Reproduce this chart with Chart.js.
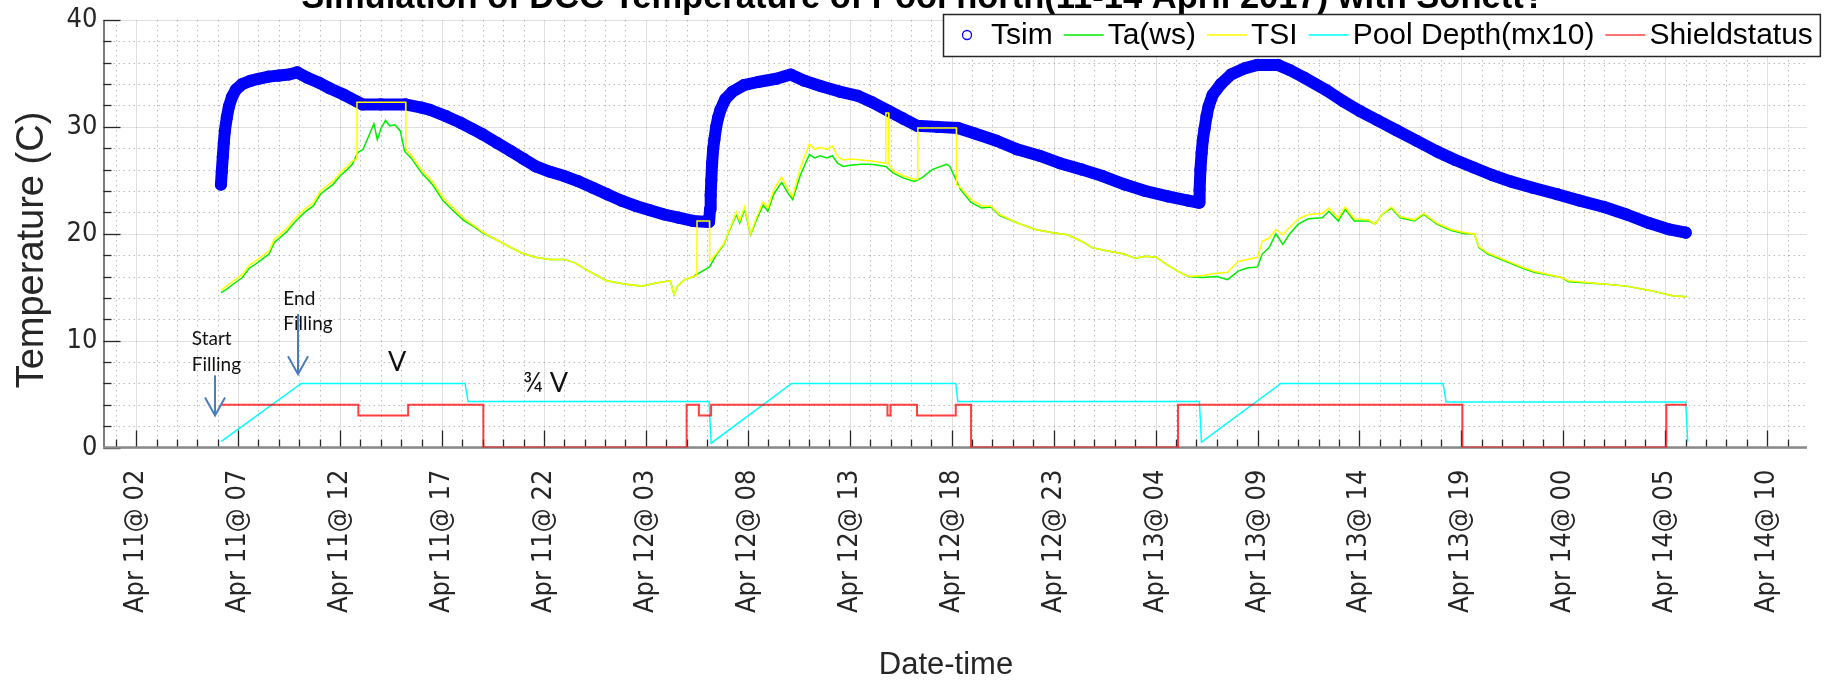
<!DOCTYPE html>
<html>
<head>
<meta charset="utf-8">
<script src="https://cdn.jsdelivr.net/npm/chart.js@4.4.0/dist/chart.umd.min.js"></script>
<style>
html,body{margin:0;padding:0;background:#fff;}
canvas{display:block;}
</style>
</head>
<body>
<canvas id="c" width="1827" height="684"></canvas>
<script>
// ---------------- DATA (hours since Apr 11 00:00) ----------------
const titleText = 'Simulation of DCC Temperature of Pool north(11-14 April 2017) with Sonett?';
const xTitle = 'Date-time';
const yTitle = 'Temperature (C)';
const tickHours = [2, 7, 12, 17, 22, 27, 32, 37, 42, 47, 52, 57, 62, 67, 72, 77, 82];
const tickLabels = ['Apr 11@ 02', 'Apr 11@ 07', 'Apr 11@ 12', 'Apr 11@ 17', 'Apr 11@ 22',
  'Apr 12@ 03', 'Apr 12@ 08', 'Apr 12@ 13', 'Apr 12@ 18', 'Apr 12@ 23',
  'Apr 13@ 04', 'Apr 13@ 09', 'Apr 13@ 14', 'Apr 13@ 19',
  'Apr 14@ 00', 'Apr 14@ 05', 'Apr 14@ 10'];
const yTickValues = [0, 10, 20, 30, 40];

const tsimHours = [6.16, 6.20, 6.25, 6.30, 6.35, 6.45, 6.55, 6.70, 6.90, 7.20, 7.60, 8.00, 8.50, 9.00, 9.50, 9.90,
  10.40, 11.00, 11.50, 12.20, 12.80, 13.10, 14.00, 15.20, 16.00, 16.40, 17.20, 17.90, 18.50, 19.00, 19.70,
  20.40, 21.00, 21.60, 22.30, 23.00, 23.70, 24.40, 25.10, 25.80, 26.50, 27.20, 27.90, 28.60, 29.30, 30.10,
  30.15, 30.18, 30.21, 30.25, 30.30, 30.36, 30.45, 30.55, 30.66, 30.90, 31.25, 31.80, 32.50, 33.40, 34.10,
  34.80, 35.60, 36.50, 37.40, 38.10, 38.90, 39.60, 40.30, 41.30, 42.30, 43.10, 44.20, 45.20, 46.30, 47.30,
  48.40, 49.40, 50.50, 51.50, 52.60, 53.60, 54.13,
  54.16, 54.20, 54.26, 54.32, 54.40, 54.50, 54.60, 54.80, 55.20, 55.70, 56.40, 57.00, 58.00, 58.60, 59.30,
  60.40, 61.20, 62.00, 62.90, 63.80, 64.80, 65.80, 66.70, 67.60, 68.50, 69.40, 70.50, 71.70, 72.80, 74.00,
  75.10, 76.20, 77.20, 78.00];
const tsimValues = [24.6, 25.8, 27.2, 28.5, 29.6, 30.9, 31.9, 32.8, 33.5, 34.0, 34.3, 34.5, 34.7, 34.8, 34.9, 35.1,
  34.6, 34.1, 33.6, 33.0, 32.4, 32.1, 32.1, 32.1, 31.8, 31.6, 31.0, 30.4, 29.8, 29.3, 28.5,
  27.7, 27.0, 26.3, 25.8, 25.4, 24.9, 24.3, 23.7, 23.1, 22.6, 22.2, 21.8, 21.5, 21.2, 21.1,
  22.3, 23.6, 25.0, 26.6, 27.9, 28.8, 30.0, 30.9, 31.6, 32.6, 33.3, 33.9, 34.2, 34.5, 34.9,
  34.3, 33.8, 33.3, 32.9, 32.3, 31.5, 30.8, 30.1, 30.0, 29.9, 29.4, 28.7, 27.9, 27.3, 26.6,
  26.0, 25.4, 24.6, 24.0, 23.5, 23.1, 22.9,
  24.1, 26.0, 27.6, 28.8, 29.8, 31.0, 31.9, 33.0, 34.0, 34.9, 35.5, 35.8, 35.8, 35.3, 34.6,
  33.4, 32.4, 31.5, 30.6, 29.7, 28.7, 27.7, 26.9, 26.2, 25.5, 24.9, 24.3, 23.7, 23.1, 22.5,
  21.8, 21.0, 20.4, 20.1];

const taHours = [6.16, 6.43, 6.77, 7.21, 7.56, 7.82, 8.17, 8.52, 8.78, 9.04, 9.39, 9.74, 10.00, 10.26, 10.69,
  11.04, 11.30, 11.65, 12.00, 12.35, 12.60, 12.87, 13.13, 13.40, 13.66, 13.83, 14.00, 14.23, 14.44, 14.70,
  14.96, 15.17, 15.48, 16.00, 16.53, 17.05, 17.57, 18.10, 18.62, 18.97, 19.50, 20.19, 20.90, 21.58, 22.28,
  22.98, 23.50, 24.20, 25.07, 25.94, 26.80, 27.50, 28.20, 28.38, 28.55, 28.90, 29.33, 29.77, 30.12, 30.48,
  30.83, 31.10, 31.44, 31.60, 31.84, 32.14, 32.40, 32.75, 32.98, 33.27, 33.66, 33.97, 34.20, 34.58, 35.02,
  35.28, 35.54, 35.89, 36.15, 36.40, 36.68, 37.03, 37.55, 38.07, 38.77, 39.12, 39.64, 40.17, 40.52, 41.04,
  41.74, 41.91, 42.44, 42.96, 43.48, 43.92, 44.36, 45.23, 46.10, 46.97, 47.67, 48.37, 48.89, 49.59, 50.46,
  50.99, 51.51, 52.03, 52.56, 53.08, 53.60, 54.30, 55.00, 55.53, 56.05, 56.49, 57.00, 57.23, 57.57, 57.90,
  58.24, 58.58, 59.00, 59.48, 60.17, 60.50, 60.96, 61.30, 61.75, 62.43, 62.77, 63.10, 63.56, 64.00, 64.70,
  65.14, 65.80, 66.50, 67.18, 67.63, 67.86, 68.30, 69.44, 70.10, 70.57, 71.90, 72.27, 73.97, 75.10, 76.23,
  77.36, 78.04];
const taValues = [14.5, 14.8, 15.3, 15.9, 16.8, 17.1, 17.6, 18.1, 19.2, 19.6, 20.2, 21.0, 21.5, 22.0, 22.6,
  23.7, 24.1, 24.6, 25.4, 26.0, 26.5, 27.6, 27.9, 29.1, 30.3, 28.8, 29.8, 30.6, 30.1, 30.2,
  29.6, 27.7, 27.1, 25.7, 24.6, 23.1, 22.1, 21.2, 20.6, 20.1, 19.6, 18.9, 18.2, 17.8, 17.6,
  17.6, 17.3, 16.5, 15.6, 15.3, 15.1, 15.4, 15.6, 14.3, 15.1, 15.7, 16.0, 16.5, 16.9, 18.1,
  19.0, 20.3, 21.8, 21.0, 22.3, 19.9, 21.2, 22.7, 22.1, 23.7, 24.8, 23.8, 23.2, 25.5, 27.4,
  27.1, 27.3, 27.1, 27.3, 26.6, 26.3, 26.4, 26.5, 26.5, 26.3, 25.7, 25.2, 24.9, 25.2, 26.0,
  26.5, 26.3, 24.1, 22.9, 22.4, 22.5, 21.7, 21.0, 20.4, 20.1, 19.9, 19.3, 18.7, 18.4, 18.1,
  17.7, 17.9, 17.8, 17.1, 16.5, 16.0, 15.9, 16.0, 15.7, 16.5, 16.8, 16.9, 18.1, 18.7, 20.0,
  19.0, 20.0, 20.9, 21.4, 21.5, 22.1, 21.2, 22.3, 21.2, 21.2, 20.9, 21.8, 22.4, 21.5, 21.2,
  21.8, 20.9, 20.3, 20.0, 20.0, 18.7, 18.1, 17.2, 16.7, 16.4, 15.9, 15.5, 15.3, 15.1, 14.7,
  14.2, 14.1];

const tsiHours = [6.16, 6.43, 6.77, 7.21, 7.56, 7.82, 8.17, 8.52, 8.78, 9.04, 9.39, 9.74, 10.00, 10.26, 10.69,
  11.04, 11.30, 11.65, 12.00, 12.35, 12.60, 12.82, 12.83, 15.22, 15.23, 15.48, 16.00, 16.53, 17.05, 17.57,
  18.10, 18.62, 18.97, 19.50, 20.19, 20.90, 21.58, 22.28, 22.98, 23.50, 24.20, 25.07, 25.94, 26.80, 27.50,
  28.20, 28.38, 28.55, 28.90, 29.33, 29.50, 29.51, 30.12, 30.13, 30.48, 30.83, 31.10, 31.44, 31.60, 31.84,
  32.14, 32.40, 32.75, 32.98, 33.27, 33.66, 33.97, 34.20, 34.58, 35.02, 35.28, 35.54, 35.89, 36.15, 36.40,
  36.68, 37.03, 37.55, 38.07, 38.76, 38.77, 38.91, 38.92, 39.12, 39.64, 40.17, 40.33, 40.34, 42.23, 42.24,
  42.44, 42.96, 43.48, 43.92, 44.36, 45.23, 46.10, 46.97, 47.67, 48.37, 48.89, 49.59, 50.46, 50.99, 51.51,
  52.03, 52.56, 53.08, 53.60, 54.30, 55.00, 55.53, 56.05, 56.49, 57.00, 57.23, 57.57, 57.90, 58.24, 58.58,
  59.00, 59.48, 60.17, 60.50, 60.96, 61.30, 61.75, 62.43, 62.77, 63.10, 63.56, 64.00, 64.70, 65.14, 65.80,
  66.50, 67.18, 67.63, 67.86, 68.30, 69.44, 70.10, 70.57, 71.90, 72.27, 73.97, 75.10, 76.23, 77.36, 78.04];
const tsiValues = [14.7, 15.1, 15.6, 16.2, 17.1, 17.4, 17.9, 18.4, 19.5, 19.9, 20.5, 21.3, 21.8, 22.3, 22.9,
  24.0, 24.4, 24.9, 25.7, 26.3, 26.8, 27.0, 32.3, 32.3, 27.9, 27.4, 26.0, 24.9, 23.4, 22.4,
  21.4, 20.7, 20.2, 19.6, 18.9, 18.2, 17.8, 17.6, 17.6, 17.3, 16.5, 15.6, 15.3, 15.1, 15.4,
  15.6, 14.3, 15.1, 15.7, 16.0, 16.1, 21.2, 21.2, 17.4, 18.2, 19.1, 20.4, 22.0, 21.2, 22.5,
  20.0, 21.4, 23.0, 22.4, 24.1, 25.3, 24.2, 23.5, 26.2, 28.4, 27.9, 28.1, 27.9, 28.2, 27.2,
  26.9, 27.0, 26.9, 26.8, 26.6, 31.3, 31.3, 26.5, 25.9, 25.4, 25.1, 25.1, 29.9, 29.9, 24.6,
  24.3, 23.2, 22.6, 22.6, 21.8, 21.0, 20.4, 20.1, 19.9, 19.3, 18.7, 18.4, 18.1, 17.7, 17.9,
  17.8, 17.1, 16.5, 16.0, 16.1, 16.3, 16.4, 17.4, 17.6, 17.8, 19.3, 19.6, 20.4, 19.9, 20.6,
  21.4, 21.8, 21.9, 22.4, 21.5, 22.5, 21.4, 21.3, 20.9, 21.8, 22.5, 21.6, 21.3, 21.9, 21.0,
  20.4, 20.1, 20.0, 18.8, 18.2, 17.3, 16.8, 16.5, 15.9, 15.6, 15.3, 15.1, 14.7, 14.2, 14.1];

const poolHours = [6.16, 10.10, 18.13, 18.28, 30.10, 30.20, 34.15, 42.20, 42.30, 54.15, 54.25, 58.15, 66.10, 66.25, 78.00, 78.10];
const poolValues = [0.55, 6.0, 6.0, 4.3, 4.3, 0.4, 6.0, 6.0, 4.3, 4.3, 0.5, 6.0, 6.0, 4.25, 4.25, 0.5];

const shieldHours = [6.16, 12.90, 12.90, 15.34, 15.34, 19.03, 19.03, 29.00, 29.00, 29.60, 29.60, 30.20, 30.20,
  38.85, 38.85, 39.00, 39.00, 40.30, 40.30, 42.20, 42.20, 42.95, 42.95, 53.10, 53.10, 67.05, 67.05, 77.05, 77.05, 78.05];
const shieldValues = [4, 4, 3, 3, 4, 4, 0, 0, 4, 4, 3, 3, 4, 4, 3, 3, 4, 4, 3, 3, 4, 4, 0, 0, 4, 4, 0, 0, 4, 4];

// Annotations (in data coordinates: hours, °C)
const noteTexts = [
  {text: 'Start', h: 4.73, t: 9.55, size: 19},
  {text: 'Filling', h: 4.73, t: 7.2, size: 19},
  {text: 'End', h: 9.22, t: 13.3, size: 19},
  {text: 'Filling', h: 9.22, t: 11.0, size: 19},
  {text: 'V', h: 14.35, t: 7.2, size: 27},
  {text: '\u00BE V', h: 20.97, t: 5.15, size: 27}
];
const noteArrows = [
  {h: 5.87, t0: 6.75, t1: 3.0},
  {h: 9.94, t0: 12.5, t1: 6.85}
];

// ---------------- CHART ----------------
const pts = (xs, ys) => xs.map((x, i) => ({x: x, y: ys[i]}));
const FONT = "'Liberation Sans', Arial, Helvetica, sans-serif";
const INK = '#262626';

function hasFont(name) {
  const c = document.createElement('canvas').getContext('2d');
  const s = 'Apr 11@ 02 WwMmli';
  let diff = false;
  ['monospace', 'serif'].forEach(g => {
    c.font = '40px ' + g; const a = c.measureText(s).width;
    c.font = '40px "' + name + '", ' + g; const b = c.measureText(s).width;
    if (Math.abs(a - b) > 0.5) diff = true;
  });
  return diff;
}
let TICK_FONT = FONT, TICK_SIZE = 26;
if (hasFont('Liberation Sans Narrow')) { TICK_FONT = "'Liberation Sans Narrow', " + FONT; TICK_SIZE = 32; }
else if (hasFont('DejaVu Sans Condensed')) { TICK_FONT = "'DejaVu Sans Condensed', " + FONT; TICK_SIZE = 27; }

function seg(ctx, x0, y0, x1, y1) { ctx.beginPath(); ctx.moveTo(x0, y0); ctx.lineTo(x1, y1); ctx.stroke(); }

const matlabAxes = {
  id: 'matlabAxes',
  beforeDatasetsDraw(chart) {
    const {ctx, chartArea: a, scales: {x, y}} = chart;
    ctx.save();
    ctx.lineWidth = 1;
    // minor grid (dotted)
    ctx.strokeStyle = 'rgba(38,38,38,0.30)';
    ctx.setLineDash([1.5, 3.5]);
    for (let h = Math.ceil(x.min); h <= x.max; h++) {
      if (tickHours.includes(h)) continue;
      const px = Math.round(x.getPixelForValue(h)) + 0.5;
      seg(ctx, px, a.top, px, a.bottom);
    }
    for (let v = 2; v < 40; v += 2) {
      if (yTickValues.includes(v)) continue;
      const py = Math.round(y.getPixelForValue(v)) + 0.5;
      seg(ctx, a.left, py, a.right, py);
    }
    // major grid
    ctx.setLineDash([]);
    ctx.strokeStyle = 'rgba(38,38,38,0.15)';
    tickHours.forEach(h => { const px = Math.round(x.getPixelForValue(h)) + 0.5; seg(ctx, px, a.top, px, a.bottom); });
    yTickValues.forEach(v => { const py = Math.round(y.getPixelForValue(v)) + 0.5; seg(ctx, a.left, py, a.right, py); });
    // inward tick marks
    ctx.strokeStyle = INK;
    ctx.lineWidth = 1.3;
    for (let h = Math.ceil(x.min); h <= x.max; h++) {
      const len = tickHours.includes(h) ? 17 : 8;
      const px = Math.round(x.getPixelForValue(h)) + 0.5;
      seg(ctx, px, a.bottom, px, a.bottom - len);
    }
    for (let v = 0; v <= 40; v += 2) {
      const len = yTickValues.includes(v) ? 17 : 8;
      const py = Math.round(y.getPixelForValue(v)) + 0.5;
      seg(ctx, a.left, py, a.left + len, py);
    }
    // axis lines
    ctx.lineWidth = 1.2;
    seg(ctx, a.left + 0.5, a.top, a.left + 0.5, a.bottom);
    ctx.strokeStyle = '#8a8a8a';
    ctx.lineWidth = 2.5;
    seg(ctx, a.left, a.bottom, a.right, a.bottom);
    ctx.restore();
  }
};

const notes = {
  id: 'notes',
  afterDatasetsDraw(chart) {
    const {ctx, scales: {x, y}} = chart;
    ctx.save();
    ctx.fillStyle = '#111';
    ctx.textBaseline = 'alphabetic';
    ctx.textAlign = 'left';
    noteTexts.forEach(n => {
      ctx.font = n.size + "px Lato, 'Open Sans', sans-serif";
      ctx.fillText(n.text, x.getPixelForValue(n.h), y.getPixelForValue(n.t));
    });
    ctx.strokeStyle = '#4a7ebb';
    ctx.lineWidth = 2;
    noteArrows.forEach(ar => {
      const px = x.getPixelForValue(ar.h);
      const p0 = y.getPixelForValue(ar.t0), p1 = y.getPixelForValue(ar.t1);
      seg(ctx, px, p0, px, p1);
      ctx.beginPath();
      ctx.moveTo(px - 10, p1 - 18); ctx.lineTo(px, p1); ctx.lineTo(px + 10, p1 - 18);
      ctx.stroke();
    });
    ctx.restore();
  }
};

const overlay = {
  id: 'overlay',
  afterDraw(chart) {
    const ctx = chart.ctx;
    ctx.save();
    // axis titles
    ctx.fillStyle = INK;
    ctx.textAlign = 'center';
    ctx.textBaseline = 'middle';
    ctx.font = '31px ' + FONT;
    ctx.fillText(xTitle, 946, 665);
    ctx.save();
    ctx.translate(33, 250);
    ctx.rotate(-Math.PI / 2);
    ctx.font = '38px ' + FONT;
    ctx.fillText(yTitle, 0, 0);
    ctx.restore();
    // title (partly clipped at the top, as in the reference)
    ctx.font = 'bold 34.5px ' + FONT;
    ctx.fillStyle = '#000';
    ctx.textAlign = 'center';
    ctx.textBaseline = 'alphabetic';
    ctx.fillText(titleText, 923, 8);
    // legend
    ctx.font = '30px ' + FONT;
    const ds = chart.data.datasets;
    let xpos = 947;
    const items = ds.map((d, i) => {
      const w = ctx.measureText(d.label).width;
      const it = {d: d, x: xpos, w: w};
      xpos += 40 + 4 + w + 11;
      return it;
    });
    const boxL = 943, boxR = xpos - 11 + 7, boxT = 14, boxB = 56;
    ctx.fillStyle = '#fff';
    ctx.fillRect(boxL, boxT, boxR - boxL, boxB - boxT);
    ctx.strokeStyle = INK;
    ctx.lineWidth = 1.5;
    ctx.strokeRect(boxL + 0.5, boxT + 0.5, boxR - boxL, boxB - boxT);
    const cy = (boxT + boxB) / 2;
    items.forEach((it, i) => {
      if (i === 0) {
        ctx.strokeStyle = it.d.borderColor;
        ctx.lineWidth = 1.3;
        ctx.beginPath(); ctx.arc(it.x + 20, cy, 4.5, 0, Math.PI * 2); ctx.stroke();
      } else {
        ctx.strokeStyle = it.d.borderColor;
        ctx.lineWidth = 1.5;
        seg(ctx, it.x, cy, it.x + 40, cy);
      }
      ctx.fillStyle = '#000';
      ctx.textAlign = 'left';
      ctx.textBaseline = 'middle';
      ctx.fillText(it.d.label, it.x + 44, cy + 1);
    });
    ctx.restore();
  }
};

new Chart(document.getElementById('c'), {
  type: 'line',
  data: {
    datasets: [
      {label: 'Tsim', data: pts(tsimHours, tsimValues), borderColor: '#0000ff', backgroundColor: 'rgba(0,0,0,0)',
        borderWidth: 12, borderCapStyle: 'round', borderJoinStyle: 'round',
        pointRadius: 5.5, pointBorderWidth: 1.2, pointBorderColor: '#0000ff', pointBackgroundColor: 'rgba(0,0,0,0)', order: 5},
      {label: 'Ta(ws)', data: pts(taHours, taValues), borderColor: '#00ee00', borderWidth: 1.5, pointRadius: 0, order: 4},
      {label: 'TSI', data: pts(tsiHours, tsiValues), borderColor: '#ffff00', borderWidth: 1.5, pointRadius: 0, order: 3},
      {label: 'Pool Depth(mx10)', data: pts(poolHours, poolValues), borderColor: '#00ffff', borderWidth: 1.5, pointRadius: 0, order: 2},
      {label: 'Shieldstatus', data: pts(shieldHours, shieldValues), borderColor: 'rgba(255,0,0,0.75)', borderWidth: 2, pointRadius: 0, order: 1}
    ]
  },
  options: {
    responsive: false,
    animation: false,
    devicePixelRatio: 1,
    layout: {padding: {left: 10, top: 20, right: 20, bottom: 0}},
    plugins: {legend: {display: false}, title: {display: false}, tooltip: {enabled: false}},
    elements: {line: {tension: 0, fill: false}},
    scales: {
      x: {
        type: 'linear', min: 0.4, max: 83.95,
        grid: {display: false, drawTicks: false},
        border: {display: false},
        afterBuildTicks: s => { s.ticks = tickHours.map(v => ({value: v})); },
        afterFit: s => { s.height = 236.5; s.paddingLeft = 0; s.paddingRight = 0; },
        ticks: {
          autoSkip: false, minRotation: 90, maxRotation: 90, padding: 22,
          color: INK, font: {family: TICK_FONT, size: TICK_SIZE},
          callback: (v, i) => tickLabels[i]
        },
        title: {display: false}
      },
      y: {
        type: 'linear', min: 0, max: 40,
        grid: {display: false, drawTicks: false},
        border: {display: false},
        afterBuildTicks: s => { s.ticks = yTickValues.map(v => ({value: v})); },
        afterFit: s => { s.width = 93.5; s.paddingTop = 0; s.paddingBottom = 0; },
        ticks: {padding: 6, color: INK, font: {family: TICK_FONT, size: TICK_SIZE}},
        title: {display: false}
      }
    }
  },
  plugins: [matlabAxes, notes, overlay]
});
</script>
</body>
</html>
